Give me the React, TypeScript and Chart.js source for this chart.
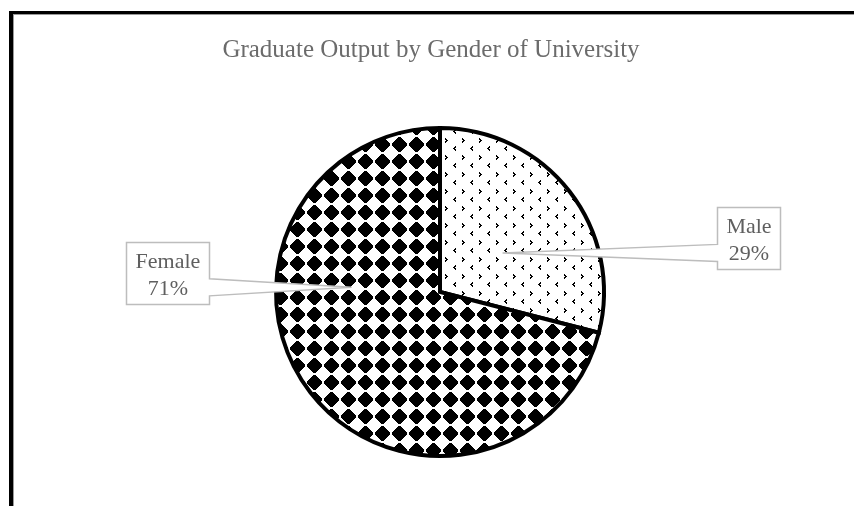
import React, { useEffect, useRef } from "react";
import { Chart, registerables } from "chart.js";

Chart.register(...registerables);

const TITLE = "Graduate Output by Gender of University";
const CATEGORIES = ["Male", "Female"];
const VALUES = [29, 71];
const PERCENT_LABELS = ["29%", "71%"];

// callout placement (box centre x / top) and where the pointer tip lands inside each slice
const LABEL_BOX_CX = [748, 167];
const LABEL_BOX_TOP = [207, 242];
const LABEL_TIP_ANGLE = [-32, 183];
const LABEL_TIP_FRAC = [0.45, 0.54];

const SERIF = '"Liberation Serif", "Times New Roman", serif';

function makeDiamondPattern(ctx: CanvasRenderingContext2D) {
  const s = 17;
  const c = document.createElement("canvas");
  c.width = s;
  c.height = s;
  const g = c.getContext("2d")!;
  g.fillStyle = "#fff";
  g.fillRect(0, 0, s, s);
  g.fillStyle = "#000";
  for (let i = 0; i < s; i++) {
    for (let j = 0; j < s; j++) {
      const dx = Math.abs(i - 8);
      const dy = Math.abs(j - 8);
      if (dx + dy <= 8 && dx < 8 && dy < 8) g.fillRect(i, j, 1, 1);
    }
  }
  return ctx.createPattern(c, "repeat")!;
}

function makeChevronPattern(ctx: CanvasRenderingContext2D) {
  const s = 17;
  const c = document.createElement("canvas");
  c.width = s;
  c.height = s;
  const g = c.getContext("2d")!;
  g.fillStyle = "#fff";
  g.fillRect(0, 0, s, s);
  g.fillStyle = "#000";
  const right = ["X..", "XX.", ".XX", "XX.", "X.."];
  const left = ["..X", ".XX", "XX.", ".XX", "..X"];
  const put = (rows: string[], ox: number, oy: number) =>
    rows.forEach((r, y) => r.split("").forEach((ch, x) => ch === "X" && g.fillRect(ox + x, oy + y, 1, 1)));
  put(right, 3, 2);
  put(left, 11, 10);
  return ctx.createPattern(c, "repeat")!;
}

const frameTitlePlugin = {
  id: "frameTitle",
  afterDraw(chart: any) {
    const ctx: CanvasRenderingContext2D = chart.ctx;
    ctx.save();
    ctx.fillStyle = "#000";
    ctx.fillRect(9, 11, chart.width, 3);
    ctx.fillRect(9, 11, 4, chart.height);
    ctx.fillStyle = "#9a9a9a";
    ctx.fillRect(13, 14, chart.width, 1);
    ctx.fillRect(13, 14, 1, chart.height);
    ctx.fillStyle = "#6b6b6b";
    ctx.font = `25px ${SERIF}`;
    ctx.textAlign = "center";
    ctx.textBaseline = "alphabetic";
    ctx.fillText(TITLE, 431, 57);
    ctx.restore();
  },
};

const calloutPlugin = {
  id: "callouts",
  afterDraw(chart: any) {
    const ctx: CanvasRenderingContext2D = chart.ctx;
    const meta = chart.getDatasetMeta(0);
    ctx.save();
    ctx.font = `22px ${SERIF}`;
    meta.data.forEach((arc: any, i: number) => {
      const { x, y, outerRadius } = arc.getProps(["x", "y", "outerRadius"], true);
      const a = (LABEL_TIP_ANGLE[i] * Math.PI) / 180;
      const tx = x + Math.cos(a) * outerRadius * LABEL_TIP_FRAC[i];
      const ty = y + Math.sin(a) * outerRadius * LABEL_TIP_FRAC[i];
      const lines = [CATEGORIES[i], PERCENT_LABELS[i]];
      const tw = Math.max(...lines.map((l) => ctx.measureText(l).width));
      const w = Math.round(tw + 18);
      const h = 62;
      const left = Math.round(LABEL_BOX_CX[i] - w / 2) + 0.5;
      const right = left + w;
      const top = LABEL_BOX_TOP[i] + 0.5;
      const bottom = top + h;
      const half = 8.5;
      const by = Math.min(Math.max(ty, top + half + 2), bottom - half - 2);

      ctx.beginPath();
      if (tx > right) {
        ctx.moveTo(left, top);
        ctx.lineTo(right, top);
        ctx.lineTo(right, by - half);
        ctx.lineTo(tx, ty);
        ctx.lineTo(right, by + half);
        ctx.lineTo(right, bottom);
        ctx.lineTo(left, bottom);
        ctx.closePath();
      } else {
        ctx.moveTo(left, top);
        ctx.lineTo(right, top);
        ctx.lineTo(right, bottom);
        ctx.lineTo(left, bottom);
        ctx.lineTo(left, by + half);
        ctx.lineTo(tx, ty);
        ctx.lineTo(left, by - half);
        ctx.closePath();
      }
      ctx.fillStyle = "#fff";
      ctx.fill();
      ctx.strokeStyle = "#bdbdbd";
      ctx.lineWidth = 1.5;
      ctx.lineJoin = "miter";
      ctx.stroke();

      ctx.fillStyle = "#5f5f5f";
      ctx.textAlign = "center";
      ctx.textBaseline = "alphabetic";
      const cx = (left + right) / 2;
      ctx.fillText(lines[0], cx, top + 25.5);
      ctx.fillText(lines[1], cx, top + 52.5);
    });
    ctx.restore();
  },
};

export default function App() {
  const canvasRef = useRef<HTMLCanvasElement | null>(null);

  useEffect(() => {
    const canvas = canvasRef.current!;
    const ctx = canvas.getContext("2d")!;
    const chart = new Chart(ctx, {
      type: "pie",
      data: {
        labels: CATEGORIES,
        datasets: [
          {
            data: VALUES,
            backgroundColor: [makeChevronPattern(ctx), makeDiamondPattern(ctx)],
            borderColor: "#000",
            borderWidth: 4,
            borderJoinStyle: "miter",
            hoverBorderWidth: 4,
          } as any,
        ],
      },
      options: {
        responsive: false,
        animation: false,
        events: [],
        radius: 164,
        layout: { padding: { left: 274, right: 248, top: 126, bottom: 48 } },
        plugins: {
          legend: { display: false },
          tooltip: { enabled: false },
          title: { display: false },
        },
      } as any,
      plugins: [frameTitlePlugin, calloutPlugin],
    });
    return () => chart.destroy();
  }, []);

  return (
    <div style={{ position: "absolute", left: 0, top: 0, width: 854, height: 506, background: "#fff" }}>
      <canvas ref={canvasRef} width={854} height={506} style={{ display: "block" }} />
    </div>
  );
}
